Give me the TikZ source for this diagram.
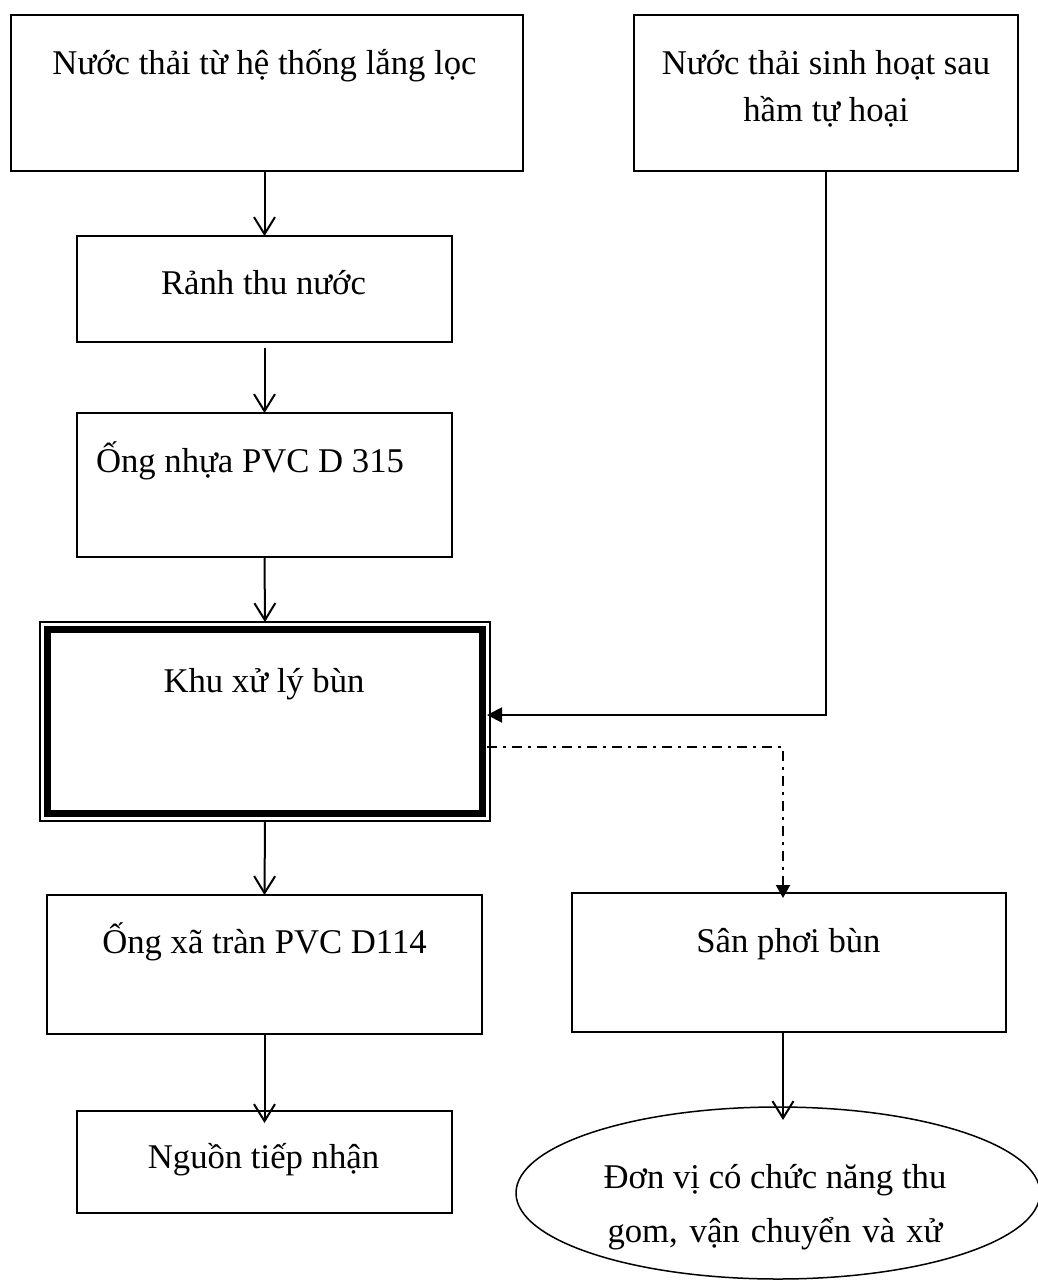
\documentclass[tikz,border=0pt]{standalone}
\usepackage{fontspec}
\setmainfont{Liberation Serif}
\usetikzlibrary{arrows.meta,shapes.geometric,calc}
\begin{document}
\begin{tikzpicture}[x=1pt,y=1pt,
  box/.style={draw,line width=1.3pt,rectangle,inner sep=0pt,outer sep=0pt},
  txt/.style={font=\fontsize{34.7}{47}\selectfont,anchor=base,inner sep=0pt,outer sep=0pt},
  arr/.style={line width=2pt,-{Straight Barb[length=17pt,width=21pt,line width=2pt]}},
  farr/.style={line width=2pt,-{Triangle[length=15pt,width=15pt]}},
  dd/.style={line width=2pt,dash pattern=on 10pt off 6pt on 3pt off 6pt,-{Triangle[length=13pt,width=14pt]}}
]
\useasboundingbox (0,0) rectangle (1038,-1280);

% boxes
\node[box,minimum width=512pt,minimum height=156pt] (b1) at (267,-93) {};
\node[box,minimum width=384pt,minimum height=156pt] (b2) at (826,-93) {};
\node[box,minimum width=375pt,minimum height=106pt] (b3) at (264.5,-289) {};
\node[box,minimum width=375pt,minimum height=144pt] (b4) at (264.5,-485) {};
\node[draw,line width=1.2pt,rectangle,inner sep=0pt,outer sep=0pt,minimum width=450pt,minimum height=199pt] (khu) at (265,-721.5) {};
\draw[line width=7.5pt] ([shift={(7.5pt,-7.5pt)}]khu.north west) rectangle ([shift={(-7.5pt,7.5pt)}]khu.south east);
\node[box,minimum width=435pt,minimum height=139pt] (oxa) at (264.5,-964.5) {};
\node[box,minimum width=434pt,minimum height=139pt] (san) at (789,-962.5) {};
\node[box,minimum width=375pt,minimum height=102pt] (nguon) at (264.5,-1162) {};
\node[draw,line width=1.5pt,ellipse,inner sep=0pt,minimum width=524pt,minimum height=172pt] (ell) at (778,-1193) {};

% texts
\node[txt] (t1) at (264.5,-74) {Nước thải từ hệ thống lắng lọc};
\node[txt] (t2a) at (826,-74) {Nước thải sinh hoạt sau};
\node[txt] (t2b) at (826,-121) {hầm tự hoại};
\node[txt] (t3) at (263.5,-294) {Rảnh thu nước};
\node[txt] (t4) at (250,-472) {Ống nhựa PVC D 315};
\node[txt] (tk) at (264,-692) {Khu xử lý bùn};
\node[txt] (to) at (264.5,-953) {Ống xã tràn PVC D114};
\node[txt] (ts) at (788.5,-952) {Sân phơi bùn};
\node[txt] (tn) at (263.5,-1168) {Nguồn tiếp nhận};
\node[txt] (te1) at (775,-1188) {Đơn vị có chức năng thu};
\node[txt] (te2) at (775,-1242) {\makebox[335pt][s]{gom, vận chuyển và xử}};

% connectors
\draw[arr] (b3.north |- b1.south) -- (b3.north);
\draw[arr] ([yshift=-6pt]b3.south) -- (b4.north);
\draw[arr] (b4.south) -- (khu.north);
\draw[arr] (khu.south) -- (oxa.north);
\draw[arr] (oxa.south) -- ([yshift=-12pt]nguon.north);
\draw[farr] (b2.south) |- ([yshift=6.5pt,xshift=-3pt]khu.east);
\draw[dd] ([yshift=-25.5pt,xshift=-3pt]khu.east) -| ([xshift=-6pt,yshift=-5pt]san.north);
\draw[arr] ([xshift=-6pt]san.south) -- ([xshift=-6pt,yshift=-88pt]san.south);
\end{tikzpicture}
\end{document}
